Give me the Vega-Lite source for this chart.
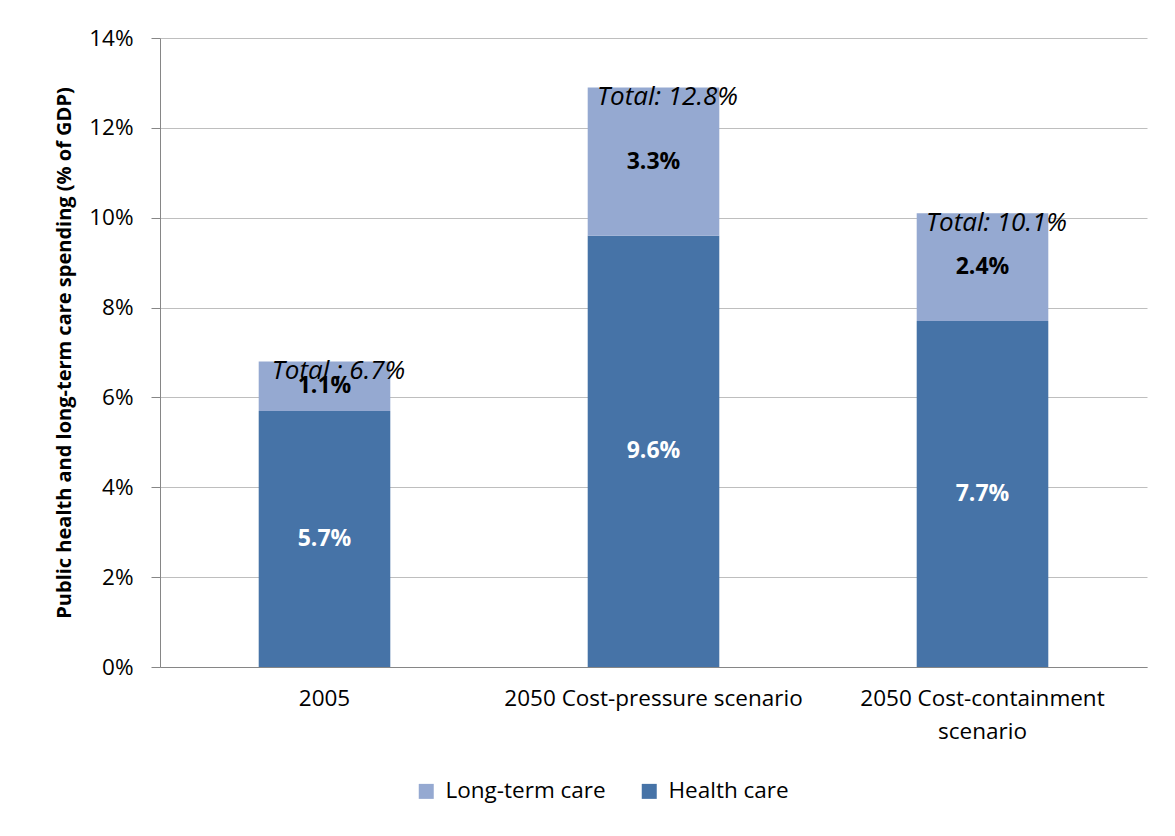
{
  "$schema": "https://vega.github.io/schema/vega-lite/v6.json",
  "width": 987,
  "height": 629,
  "padding": {"left": 54, "top": 27, "right": 28, "bottom": 10},
  "background": "white",
  "config": {
    "font": "Open Sans",
    "view": {"stroke": null},
    "axis": {"labelFont": "Open Sans", "titleFont": "Open Sans"},
    "legend": {"labelFont": "Open Sans"}
  },
  "data": {
    "values": [
      {"scenario": "2005", "type": "Health care", "rank": 1, "value": 5.7, "total": ""},
      {"scenario": "2005", "type": "Long-term care", "rank": 2, "value": 1.1, "total": "Total : 6.7%"},
      {"scenario": "2050 Cost-pressure scenario", "type": "Health care", "rank": 1, "value": 9.6, "total": ""},
      {"scenario": "2050 Cost-pressure scenario", "type": "Long-term care", "rank": 2, "value": 3.3, "total": "Total: 12.8%"},
      {"scenario": "2050 Cost-containment scenario", "type": "Health care", "rank": 1, "value": 7.7, "total": ""},
      {"scenario": "2050 Cost-containment scenario", "type": "Long-term care", "rank": 2, "value": 2.4, "total": "Total: 10.1%"}
    ]
  },
  "transform": [
    {"stack": "value", "groupby": ["scenario"], "sort": [{"field": "rank"}], "as": ["v0", "v1"]},
    {"calculate": "(datum.v0 + datum.v1) / 2", "as": "mid"},
    {"calculate": "format(datum.value, '.1f') + '%'", "as": "pct"}
  ],
  "encoding": {
    "x": {
      "field": "scenario",
      "type": "nominal",
      "sort": ["2005", "2050 Cost-pressure scenario", "2050 Cost-containment scenario"],
      "scale": {"paddingInner": 0.6, "paddingOuter": 0.3},
      "axis": {
        "title": null,
        "labelAngle": 0,
        "labelFontSize": 22.5,
        "labelColor": "#000000",
        "labelPadding": 20,
        "labelLineHeight": 33,
        "labelLimit": 0,
        "ticks": false,
        "domainColor": "#868686",
        "domainWidth": 1,
        "labelExpr": "datum.label == '2050 Cost-containment scenario' ? ['2050 Cost-containment', 'scenario'] : datum.label"
      }
    }
  },
  "layer": [
    {
      "mark": {"type": "bar"},
      "encoding": {
        "y": {
          "field": "v0",
          "type": "quantitative",
          "scale": {"domain": [0, 14], "nice": false},
          "axis": {
            "title": "Public health and long-term care spending (% of GDP)",
            "titleFontSize": 20,
            "titleFontWeight": "bold",
            "titleColor": "#000000",
            "titlePadding": 14,
            "values": [0, 2, 4, 6, 8, 10, 12, 14],
            "labelExpr": "datum.value + '%'",
            "labelFontSize": 22.5,
            "labelColor": "#000000",
            "labelPadding": 18,
            "tickSize": 9,
            "tickColor": "#868686",
            "domainColor": "#868686",
            "gridColor": "#BEBEBE",
            "gridWidth": 1
          }
        },
        "y2": {"field": "v1"},
        "color": {
          "field": "type",
          "type": "nominal",
          "scale": {"domain": ["Long-term care", "Health care"], "range": ["#95A9D1", "#4673A7"]},
          "legend": {
            "title": null,
            "orient": "none",
            "direction": "horizontal",
            "legendX": 255,
            "legendY": 742,
            "symbolType": "square",
            "symbolSize": 225,
            "symbolStrokeWidth": 0,
            "labelFontSize": 22.5,
            "labelColor": "#000000",
            "labelLimit": 0,
            "labelOffset": 8,
            "columnPadding": 32
          }
        }
      }
    },
    {
      "mark": {"type": "text", "fontSize": 23, "fontWeight": "bold"},
      "encoding": {
        "y": {"field": "mid", "type": "quantitative"},
        "text": {"field": "pct"},
        "color": {
          "condition": {"test": "datum.type == 'Health care'", "value": "#FFFFFF"},
          "value": "#000000"
        }
      }
    },
    {
      "transform": [{"filter": "datum.type == 'Long-term care'"}],
      "mark": {"type": "text", "fontSize": 26, "fontStyle": "italic", "color": "#000000", "dx": 14, "dy": 10},
      "encoding": {
        "y": {"field": "v1", "type": "quantitative"},
        "text": {"field": "total"}
      }
    }
  ]
}
